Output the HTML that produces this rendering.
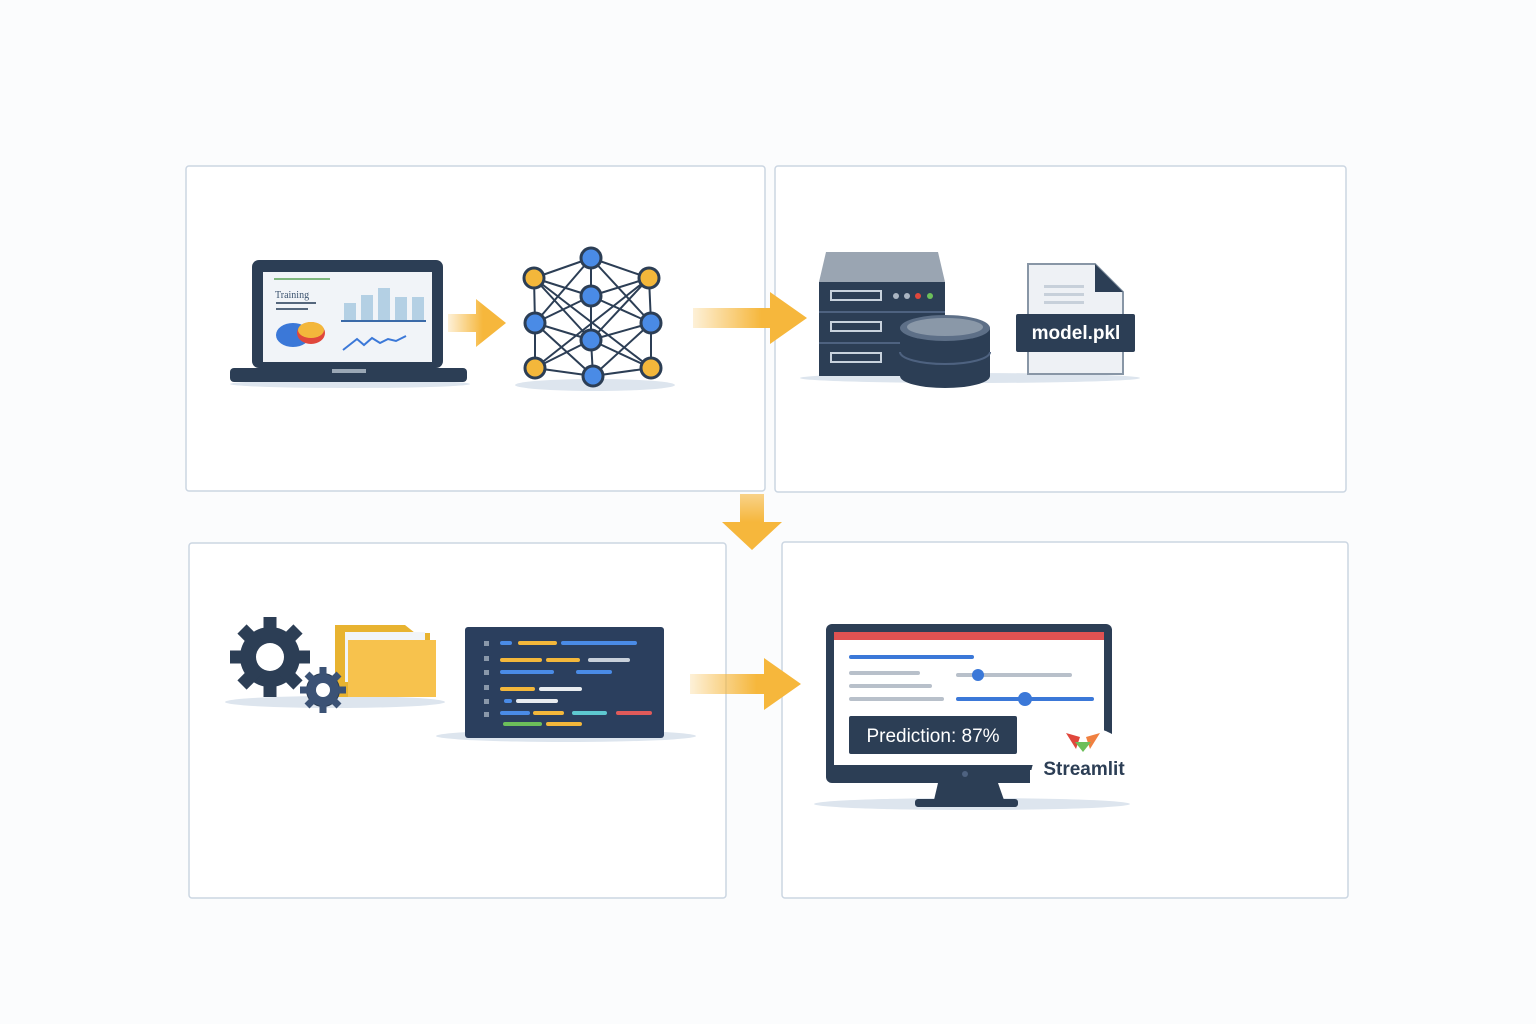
<!DOCTYPE html>
<html><head><meta charset="utf-8"><style>
body{margin:0;background:#fbfcfd;}
svg{display:block;font-family:"Liberation Sans",sans-serif;}
</style></head><body>
<svg width="1536" height="1024" viewBox="0 0 1536 1024">
<defs>
<linearGradient id="ah" x1="0" x2="1"><stop offset="0" stop-color="#f6b73c" stop-opacity="0.2"/><stop offset="0.6" stop-color="#f6b73c"/></linearGradient>
<linearGradient id="av" x1="0" y1="0" x2="0" y2="1"><stop offset="0" stop-color="#f6b73c" stop-opacity="0.6"/><stop offset="0.5" stop-color="#f6b73c"/></linearGradient>
</defs>
<rect width="1536" height="1024" fill="#fbfcfd"/>
<g fill="#fff" stroke="#cbd6e2" stroke-width="1.5">
<rect x="186" y="166" width="579" height="325" rx="3"/>
<rect x="775" y="166" width="571" height="326" rx="3"/>
<rect x="189" y="543" width="537" height="355" rx="3"/>
<rect x="782" y="542" width="566" height="356" rx="3"/>
</g>
<!-- arrows -->
<path d="M448 314h28v-15l30 24-30 24v-15h-28z" fill="url(#ah)"/>
<path d="M693 308h77v-16l37 26-37 26v-16h-77z" fill="url(#ah)"/>
<path d="M690 674h74v-16l37 26-37 26v-16h-74z" fill="url(#ah)"/>
<path d="M740 494h24v28h18l-30 28-30-28h18z" fill="url(#av)"/>
<!-- laptop -->
<ellipse cx="350" cy="384" rx="120" ry="4" fill="#dde5ee"/>
<rect x="252" y="260" width="191" height="108" rx="7" fill="#2c3e55"/>
<rect x="263" y="272" width="169" height="90" fill="#f1f4f8"/>
<rect x="230" y="368" width="237" height="14" rx="4" fill="#2c3e55"/>
<rect x="332" y="369" width="34" height="4" fill="#9aa7b5"/>
<rect x="274" y="278" width="56" height="2" fill="#7fb77e"/>
<text x="275" y="298" font-size="10" fill="#3d5470" font-family="Liberation Serif,serif">Training</text>
<rect x="276" y="302" width="40" height="2" fill="#55677d"/>
<rect x="276" y="308" width="32" height="2" fill="#55677d"/>
<g fill="#b4d0e4"><rect x="344" y="303" width="12" height="18"/><rect x="361" y="295" width="12" height="26"/><rect x="378" y="288" width="12" height="33"/><rect x="395" y="297" width="12" height="24"/><rect x="412" y="297" width="12" height="24"/></g>
<rect x="341" y="320" width="85" height="2" fill="#3b6aa8"/>
<ellipse cx="293" cy="335" rx="17" ry="12" fill="#3b78d8"/>
<ellipse cx="311" cy="333" rx="14" ry="11" fill="#e0473c"/>
<ellipse cx="311" cy="330" rx="13" ry="8" fill="#f3b73b"/>
<polyline points="343,350 357,339 364,345 372,338 380,343 388,339 396,341 406,336" fill="none" stroke="#3b78d8" stroke-width="2"/>
<!-- network -->
<ellipse cx="595" cy="385" rx="80" ry="6" fill="#dde5ee"/>
<g stroke="#2c3e55" stroke-width="2" fill="none">
<path d="M591 258L534 278M591 258L649 278M591 258L591 296M591 258L535 323M591 258L651 323M534 278L591 296M649 278L591 296M534 278L535 323M649 278L651 323M534 278L591 340M649 278L591 340M535 323L591 296M651 323L591 296M535 323L591 340M651 323L591 340M591 296L591 340M535 323L535 368M651 323L651 368M535 368L591 340M651 368L591 340M535 368L593 376M651 368L593 376M591 340L593 376M535 323L593 376M651 323L593 376M534 278L651 368M649 278L535 368"/>
</g>
<g stroke="#2c3e55" stroke-width="3">
<g fill="#4a8be6"><circle cx="591" cy="258" r="10"/><circle cx="591" cy="296" r="10"/><circle cx="535" cy="323" r="10"/><circle cx="651" cy="323" r="10"/><circle cx="591" cy="340" r="10"/><circle cx="593" cy="376" r="10"/></g>
<g fill="#f3b73b"><circle cx="534" cy="278" r="10"/><circle cx="649" cy="278" r="10"/><circle cx="535" cy="368" r="10"/><circle cx="651" cy="368" r="10"/></g>
</g>
<!-- server -->
<ellipse cx="970" cy="378" rx="170" ry="5" fill="#dde5ee"/>
<path d="M826 252h112l7 30h-126z" fill="#9aa5b2"/>
<rect x="819" y="282" width="126" height="94" fill="#2c3e55"/>
<g fill="none" stroke="#c8d2dd" stroke-width="2"><rect x="831" y="291" width="50" height="9"/><rect x="831" y="322" width="50" height="9"/><rect x="831" y="353" width="50" height="9"/></g>
<rect x="819" y="311" width="126" height="2" fill="#4e6280"/><rect x="819" y="342" width="126" height="2" fill="#4e6280"/>
<circle cx="896" cy="296" r="3" fill="#aab5c2"/><circle cx="907" cy="296" r="3" fill="#aab5c2"/><circle cx="918" cy="296" r="3" fill="#e0473c"/><circle cx="930" cy="296" r="3" fill="#6cbf5a"/>
<path d="M900 328v48a45 12 0 0 0 90 0v-48z" fill="#2c3e55"/>
<ellipse cx="945" cy="328" rx="45" ry="13" fill="#5d6f87"/>
<ellipse cx="945" cy="327" rx="38" ry="9" fill="#8a98a8"/>
<path d="M900 352a45 12 0 0 0 90 0" fill="none" stroke="#4e6280" stroke-width="2"/>
<!-- file -->
<path d="M1028 264h67l28 28v82h-95z" fill="#eef1f5" stroke="#8896a6" stroke-width="2"/>
<path d="M1095 264v28h28z" fill="#2c3e55"/>
<g fill="#c7d0da"><rect x="1044" y="285" width="40" height="3"/><rect x="1044" y="293" width="40" height="3"/><rect x="1044" y="301" width="40" height="3"/></g>
<rect x="1016" y="314" width="119" height="38" rx="2" fill="#2c3e55"/>
<text x="1076" y="339" font-size="19" font-weight="bold" fill="#fff" text-anchor="middle">model.pkl</text>
<!-- gears -->
<ellipse cx="335" cy="702" rx="110" ry="6" fill="#dde5ee"/>
<path d="M335 625h70l10 8h15v64h-95z" fill="#e8b330"/>
<rect x="345" y="632" width="80" height="50" fill="#f1f4f8"/>
<path d="M348 640h88v57h-88z" fill="#f7c24d"/>
<g fill="#2c3e55">
<circle cx="270" cy="657" r="30"/>
<g stroke="#2c3e55" stroke-width="13"><line x1="270" y1="617" x2="270" y2="697"/><line x1="230" y1="657" x2="310" y2="657"/><line x1="242" y1="629" x2="298" y2="685"/><line x1="298" y1="629" x2="242" y2="685"/></g>
<circle cx="323" cy="690" r="17"/>
<g stroke="#3b5275" stroke-width="7"><line x1="323" y1="667" x2="323" y2="713"/><line x1="300" y1="690" x2="346" y2="690"/><line x1="307" y1="674" x2="339" y2="706"/><line x1="339" y1="674" x2="307" y2="706"/></g>
<circle cx="323" cy="690" r="16" fill="#3b5275"/>
</g>
<circle cx="270" cy="657" r="14" fill="#fff"/><circle cx="323" cy="690" r="7" fill="#fff"/>
<!-- code window -->
<ellipse cx="566" cy="736" rx="130" ry="6" fill="#dde5ee"/>
<rect x="465" y="627" width="199" height="111" rx="3" fill="#2b3f5e"/>
<g fill="#8a98aa"><rect x="484" y="641" width="5" height="5"/><rect x="484" y="656" width="5" height="5"/><rect x="484" y="670" width="5" height="5"/><rect x="484" y="685" width="5" height="5"/><rect x="484" y="699" width="5" height="5"/><rect x="484" y="712" width="5" height="5"/></g>
<g stroke-width="4" stroke-linecap="round">
<line x1="502" y1="643" x2="510" y2="643" stroke="#4a8be6"/><line x1="520" y1="643" x2="555" y2="643" stroke="#f3b73b"/><line x1="563" y1="643" x2="635" y2="643" stroke="#4a8be6"/>
<line x1="502" y1="660" x2="540" y2="660" stroke="#f3b73b"/><line x1="548" y1="660" x2="578" y2="660" stroke="#f3b73b"/><line x1="590" y1="660" x2="628" y2="660" stroke="#c8d0da"/>
<line x1="502" y1="672" x2="552" y2="672" stroke="#4a8be6"/><line x1="578" y1="672" x2="610" y2="672" stroke="#4a8be6"/>
<line x1="502" y1="689" x2="533" y2="689" stroke="#f3b73b"/><line x1="541" y1="689" x2="580" y2="689" stroke="#e8ecf0"/>
<line x1="506" y1="701" x2="510" y2="701" stroke="#4a8be6"/><line x1="518" y1="701" x2="556" y2="701" stroke="#e8ecf0"/>
<line x1="502" y1="713" x2="528" y2="713" stroke="#4a8be6"/><line x1="535" y1="713" x2="562" y2="713" stroke="#f3b73b"/><line x1="574" y1="713" x2="605" y2="713" stroke="#5ec8d0"/><line x1="618" y1="713" x2="650" y2="713" stroke="#e05a5a"/>
<line x1="505" y1="724" x2="540" y2="724" stroke="#6cbf5a"/><line x1="548" y1="724" x2="580" y2="724" stroke="#f3b73b"/>
</g>
<!-- monitor -->
<ellipse cx="972" cy="804" rx="158" ry="6" fill="#dde5ee"/>
<rect x="826" y="624" width="286" height="159" rx="6" fill="#2c3e55"/>
<rect x="834" y="632" width="270" height="133" fill="#fff"/>
<rect x="834" y="632" width="270" height="8" fill="#e05252"/>
<path d="M938 783h60l6 17h-70z" fill="#2c3e55"/>
<rect x="915" y="799" width="103" height="8" rx="3" fill="#2c3e55"/>
<circle cx="965" cy="774" r="3" fill="#4e6280"/>
<g stroke-linecap="round" stroke-width="4">
<line x1="851" y1="657" x2="972" y2="657" stroke="#3b78d8"/>
<line x1="851" y1="673" x2="918" y2="673" stroke="#b8c0ca"/>
<line x1="851" y1="686" x2="930" y2="686" stroke="#b8c0ca"/>
<line x1="851" y1="699" x2="942" y2="699" stroke="#b8c0ca"/>
<line x1="958" y1="675" x2="1070" y2="675" stroke="#b8c0ca"/>
<line x1="958" y1="699" x2="1092" y2="699" stroke="#3b78d8"/>
</g>
<circle cx="978" cy="675" r="6" fill="#3b78d8"/><circle cx="1025" cy="699" r="7" fill="#3b78d8"/>
<rect x="849" y="716" width="168" height="38" rx="2" fill="#2c3e55"/>
<text x="933" y="742" font-size="19" fill="#fff" text-anchor="middle">Prediction: 87%</text>
<path d="M1030 782a55 55 0 0 1 110 0z" fill="#fff"/>
<rect x="1030" y="770" width="100" height="13" fill="#fff"/>
<path d="M1066 733l14 4 -4 12z" fill="#e0473c"/><path d="M1100 733l-14 4 4 12z" fill="#f08040"/><path d="M1075 742l8 10 8-10z" fill="#6cbf5a"/>
<text x="1084" y="775" font-size="19" font-weight="bold" fill="#2c3e55" text-anchor="middle">Streamlit</text>
</svg>
</body></html>
